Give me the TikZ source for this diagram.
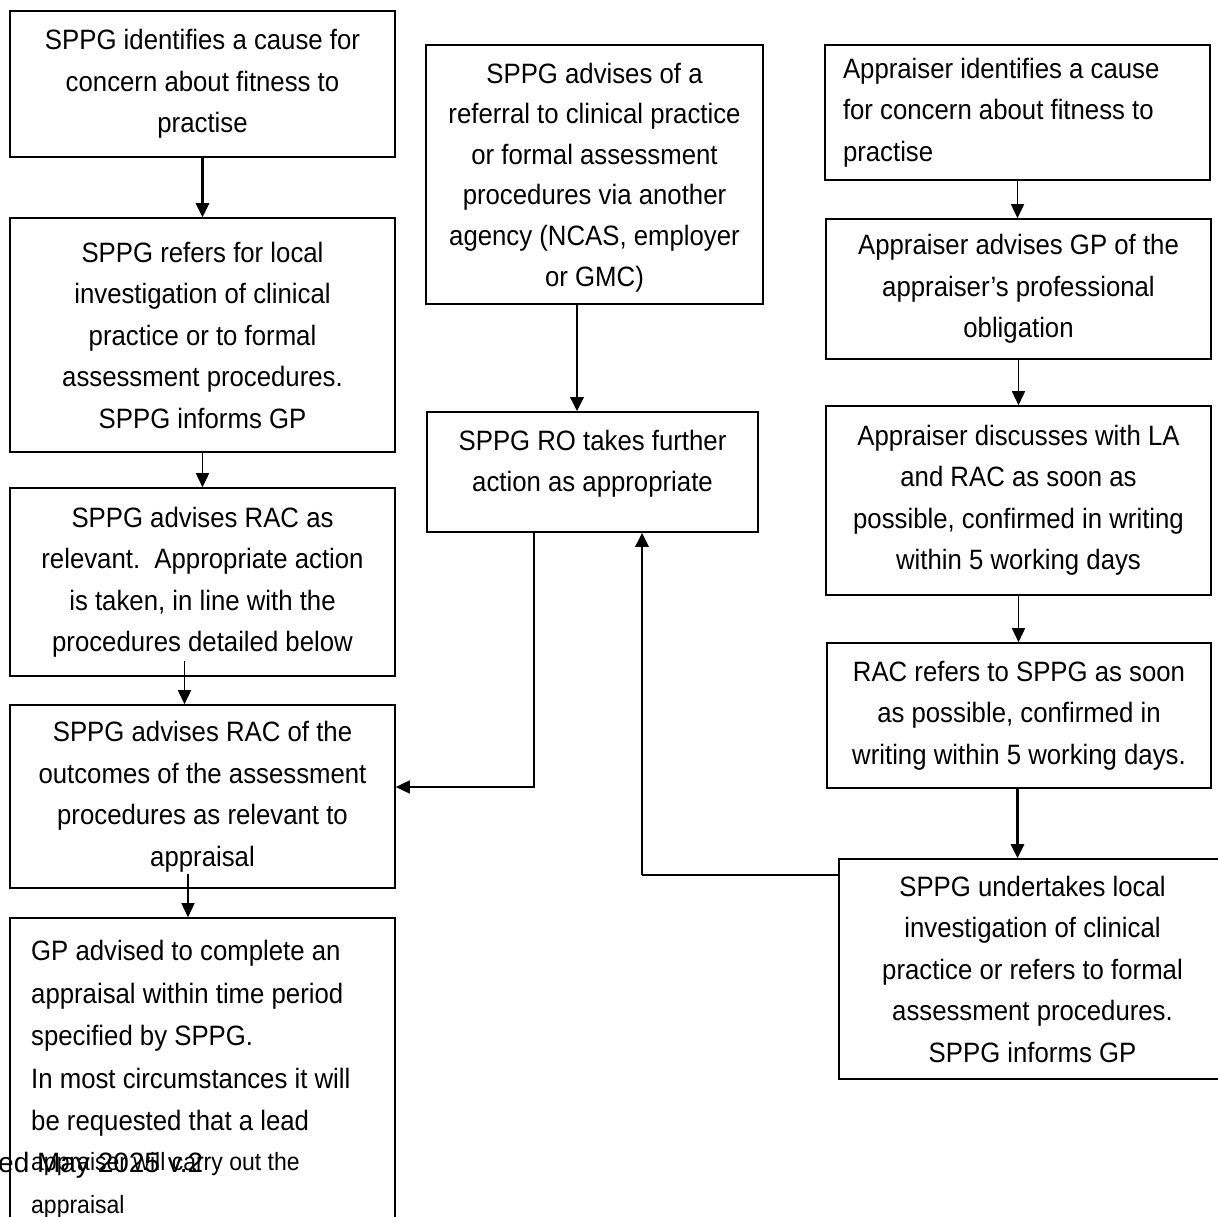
\documentclass[tikz,border=0pt]{standalone}
\usepackage{fontspec}
\setmainfont[FakeStretch=0.92]{Liberation Sans}
\newfontfamily\footfont{Liberation Sans}
\usetikzlibrary{arrows.meta,calc}

\begin{document}
\begin{tikzpicture}[x=1pt,y=-1pt,
  box/.style={draw, line width=1.6pt, inner sep=0pt, align=center,
              font=\fontsize{28}{41.5}\selectfont},
  link/.style={line width=1.6pt},
  heavy/.style={line width=2.8pt},
  tip/.style={-{Triangle[width=13pt,length=14pt]}},
]
\useasboundingbox (0,0) rectangle (1218,1216);
\clip (0,0) rectangle (1218,1216);

% left column
\node[box, minimum width=385pt, minimum height=146pt] (L1) at (202.5,84)
  {SPPG identifies a cause for\\concern about fitness to\\practise};
\node[box, minimum width=385pt, minimum height=234pt] (L2) at (202.5,335)
  {SPPG refers for local\\investigation of clinical\\practice or to formal\\assessment procedures.\\SPPG informs GP};
\node[box, minimum width=385pt, minimum height=188pt] (L3) at (202.5,582)
  {SPPG advises RAC as\\relevant.\ \ Appropriate action\\is taken, in line with the\\procedures detailed below};
\node[box, minimum width=385pt, minimum height=183pt] (L4) at (202.5,796.5)
  {SPPG advises RAC of the\\outcomes of the assessment\\procedures as relevant to\\appraisal};
\node[box, minimum width=385pt, minimum height=322pt] (L5box) at (202.5,1079) {};
\node[anchor=north west, inner sep=0pt, text width=360pt, align=flush left,
      font=\fontsize{28}{42.5}\selectfont] (L5) at (31,940)
  {GP advised to complete an\\appraisal within time period\\specified by SPPG.\\In most circumstances it will\\be requested that a lead\par
   \fontsize{25}{40}\selectfont appraiser will carry out the\\appraisal};

% footer line
\node[anchor=base west, inner sep=0pt, font=\footfont\fontsize{28}{32}\selectfont] (foot) at (-2,1172)
  {ed May 2025 v.2};

% middle column
\node[box, minimum width=337pt, minimum height=259pt, text depth=-4pt,
      font=\fontsize{28}{40.6}\selectfont] (M1) at (594.5,174.5)
  {SPPG advises of a\\referral to clinical practice\\or formal assessment\\procedures via another\\agency (NCAS, employer\\or GMC)};
\node[box, minimum width=331pt, minimum height=120pt, text depth=22pt] (M2) at (592.5,472)
  {SPPG RO takes further\\action as appropriate};

% right column
\node[box, minimum width=385pt, minimum height=135pt, text width=349pt, align=flush left] (R1) at (1017.5,112.5)
  {Appraiser identifies a cause\\for concern about fitness to\\practise};
\node[box, minimum width=385pt, minimum height=140pt] (R2) at (1018.5,289)
  {Appraiser advises GP of the\\appraiser’s professional\\obligation};
\node[box, minimum width=385pt, minimum height=189pt] (R3) at (1018.5,500.5)
  {Appraiser discusses with LA\\and RAC as soon as\\possible, confirmed in writing\\within 5 working days};
\node[box, minimum width=384pt, minimum height=145pt] (R4) at (1019,715.5)
  {RAC refers to SPPG as soon\\as possible, confirmed in\\writing within 5 working days.};
\node[box, minimum width=387pt, minimum height=220pt] (R5) at (1032.5,969)
  {SPPG undertakes local\\investigation of clinical\\practice or refers to formal\\assessment procedures.\\SPPG informs GP};

% left column arrows
\draw[heavy,tip] (L1.south) -- (L2.north);
\draw[link,tip] (L2.south) -- (L3.north);
\draw[link,tip] ($(L3.south)+(-18,-16)$) coordinate (a3) -- (a3 |- L4.north);
\draw[link,tip] ($(L4.south)+(-14.5,-15)$) coordinate (a4) -- (a4 |- L5box.north);

% middle column arrows
\draw[heavy,tip] ($(M1.south)+(-17.5,0)$) coordinate (a5) -- (a5 |- M2.north);
\draw[link,tip] ($(M2.south)+(-58.5,0)$) |- ($(L4.east)+(0,-9.5)$);

% right column arrows
\draw[link,tip] (R1.south) -- (R1.south |- R2.north);
\draw[link,tip] (R2.south) -- (R2.south |- R3.north);
\draw[link,tip] (R3.south) -- (R3.south |- R4.north);
\draw[heavy,tip] ($(R4.south)+(-1.5,0)$) coordinate (a9) -- (a9 |- R5.north);

% return path from the local investigation back up to the RO
\coordinate (r5out) at ($(R5.north west)+(0,17)$);
\coordinate (up) at ($(M2.south)+(49.5,0)$);
\coordinate (bend) at (up |- r5out);
\draw[link] (r5out) -- (bend);
\draw[heavy,tip] (bend) -- (up);
\end{tikzpicture}
\end{document}
